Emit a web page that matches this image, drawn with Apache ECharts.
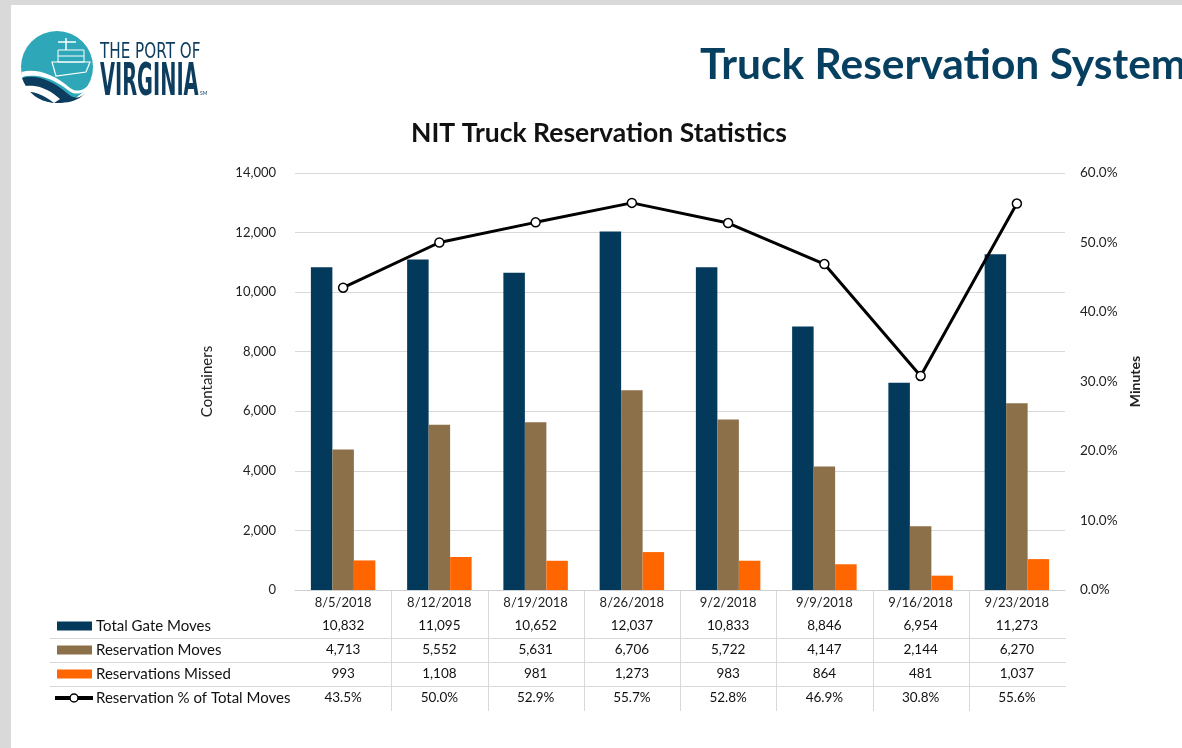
<!DOCTYPE html>
<html><head><meta charset="utf-8">
<script src="https://cdn.jsdelivr.net/npm/echarts@6/dist/echarts.min.js"></script>
<style>html,body{margin:0;padding:0;background:#fff}#c{width:1182px;height:748px}</style>
</head><body><div id="c"></div>
<script>
const categories = ['8/5/2018','8/12/2018','8/19/2018','8/26/2018','9/2/2018','9/9/2018','9/16/2018','9/23/2018'];
const totalGateMoves = [10832,11095,10652,12037,10833,8846,6954,11273];
const reservationMoves = [4713,5552,5631,6706,5722,4147,2144,6270];
const reservationsMissed = [993,1108,981,1273,983,864,481,1037];
const reservationPct = [43.5,50.0,52.9,55.7,52.8,46.9,30.8,55.6];
const seriesNames = ['Total Gate Moves','Reservation Moves','Reservations Missed','Reservation % of Total Moves'];

const FONT = 'Lato, "Open Sans", sans-serif';
const NAVY = '#033a5c', BROWN = '#8b7049', ORANGE = '#ff6600';
const fmtNum = v => v.toLocaleString('en-US');
const fmtPct = v => v.toFixed(1) + '%';

const chart = echarts.init(document.getElementById('c'));
const option = {
  backgroundColor: '#ffffff',
  animation: false,
  textStyle: { fontFamily: FONT },
  title: {
    text: 'NIT Truck Reservation Statistics',
    left: 594, top: 115, textAlign: 'center',
    textStyle: { fontFamily: FONT, fontSize: 26.5, fontWeight: 'bold', color: '#111' }
  },
  grid: { left: 295, right: 117, top: 173, bottom: 158, containLabel: false, outerBoundsMode: 'none' },
  xAxis: {
    type: 'category', data: categories,
    axisLine: { lineStyle: { color: '#d0d0d0', width: 1 } },
    axisTick: { show: false },
    axisLabel: { margin: 6, fontSize: 13, color: '#222', fontFamily: FONT }
  },
  yAxis: [{
    type: 'value', min: 0, max: 14000, interval: 2000,
    name: 'Containers', nameLocation: 'middle', nameGap: 80, nameRotate: 90,
    nameTextStyle: { fontSize: 15, color: '#222', fontFamily: FONT },
    axisLine: { show: false }, axisTick: { show: false },
    axisLabel: { margin: 19, fontSize: 13, color: '#222', formatter: v => fmtNum(v) },
    splitLine: { lineStyle: { color: '#d9d9d9', width: 1 } }
  }, {
    type: 'value', min: 0, max: 60, interval: 10, position: 'right',
    name: 'Minutes', nameLocation: 'middle', nameGap: 60, nameRotate: 90,
    nameTextStyle: { fontSize: 14, fontWeight: 'bold', color: '#222', fontFamily: FONT },
    axisLine: { show: false }, axisTick: { show: false },
    axisLabel: { margin: 15, fontSize: 13.5, color: '#222', formatter: v => fmtPct(v) },
    splitLine: { show: false }
  }],
  series: [
    { name: seriesNames[0], type: 'bar', data: totalGateMoves, barGap: '0%', barCategoryGap: '33%', itemStyle: { color: NAVY } },
    { name: seriesNames[1], type: 'bar', data: reservationMoves, itemStyle: { color: BROWN } },
    { name: seriesNames[2], type: 'bar', data: reservationsMissed, itemStyle: { color: ORANGE } },
    { name: seriesNames[3], type: 'line', yAxisIndex: 1, data: reservationPct, z: 5,
      symbol: 'circle', symbolSize: 9,
      lineStyle: { color: '#000', width: 3 },
      itemStyle: { color: '#fff', borderColor: '#000', borderWidth: 1.5 } }
  ]
};
chart.setOption(option);

// sample cubic bezier path segments into polygon points
function bez(segs) {
  const pts = [];
  segs.forEach(s => {
    if (s.length === 2) { pts.push(s); return; }
    const [p0, p1, p2, p3] = s;
    for (let t = 0; t <= 1.0001; t += 0.1) {
      const u = 1 - t;
      pts.push([
        u*u*u*p0[0] + 3*u*u*t*p1[0] + 3*u*t*t*p2[0] + t*t*t*p3[0],
        u*u*u*p0[1] + 3*u*u*t*p1[1] + 3*u*t*t*p2[1] + t*t*t*p3[1]
      ]);
    }
  });
  return pts;
}

// ---- data table, header and logo ----
const xs = categories.map((c, i) => chart.convertToPixel({ xAxisIndex: 0 }, i));
const rowY = [626, 650, 674, 698];
const rows = [
  totalGateMoves.map(fmtNum),
  reservationMoves.map(fmtNum),
  reservationsMissed.map(fmtNum),
  reservationPct.map(fmtPct)
];
const g = [];
// page frame
g.push({ type: 'rect', shape: { x: 0, y: 0, width: 1182, height: 5 }, style: { fill: '#d9d9d9' }, silent: true });
g.push({ type: 'rect', shape: { x: 0, y: 0, width: 11, height: 748 }, style: { fill: '#d9d9d9' }, silent: true });
// header title
g.push({ type: 'text', x: 700, y: 44, style: { text: 'Truck Reservation System', fontFamily: FONT, fontSize: 42.5, fontWeight: 'bold', fill: '#063f5f' } });
// logo
g.push({ type: 'circle', shape: { cx: 57, cy: 67, r: 36 }, style: { fill: '#2ea8b8' } });
g.push({ type: 'polygon', shape: { points: bez([[[22,78],[36,74],[52,80],[68,94]], [[68,94],[74,99],[80,99],[86,92]], [[86,92],[80,100],[70,103],[57,103]], [[57,103],[40,103],[27,93],[22,78]]]) }, style: { fill: '#0d3d5e' } });
g.push({ type: 'polygon', shape: { points: bez([[[21.5,72],[36,68],[54,74],[70,88]], [[70,88],[76,92],[82,92],[90,84]], [89,87], [[89,87],[82,95],[75,95],[69,91]], [[69,91],[53,78],[37,73],[22,77]]]) }, style: { fill: '#ffffff' } });
g.push({ type: 'polygon', shape: { points: bez([[[24,86],[38,84],[50,90],[60,99]], [54,103], [[54,103],[44,95],[34,91],[27,92]]]) }, style: { fill: '#ffffff' } });
g.push({ type: 'rect', shape: { x: 58, y: 50, width: 26, height: 12 }, style: { fill: 'none', stroke: '#ffffff', lineWidth: 1 } });
g.push({ type: 'line', shape: { x1: 58, y1: 56, x2: 84, y2: 56 }, style: { stroke: '#ffffff', lineWidth: 1 } });
g.push({ type: 'polygon', shape: { points: [[52,62],[90,62],[86,72],[56,76]] }, style: { fill: 'none', stroke: '#ffffff', lineWidth: 1.2 } });
g.push({ type: 'line', shape: { x1: 66, y1: 38, x2: 66, y2: 50 }, style: { stroke: '#ffffff', lineWidth: 1.5 } });
g.push({ type: 'line', shape: { x1: 58, y1: 42, x2: 76, y2: 42 }, style: { stroke: '#ffffff', lineWidth: 1.5 } });
g.push({ type: 'text', x: 100, y: 41, scaleX: 0.69, style: { text: 'THE PORT OF', fontFamily: 'DejaVu Sans', fontSize: 22, fill: '#0d3d5e' } });
g.push({ type: 'text', x: 100, y: 62, scaleX: 0.44, style: { text: 'VIRGINIA', fontFamily: 'DejaVu Sans', fontSize: 44, fontWeight: 'bold', fill: '#0d3d5e' } });
g.push({ type: 'text', x: 200, y: 91, style: { text: 'SM', fontFamily: FONT, fontSize: 5, fill: '#0d3d5e' } });

// table lines
[638, 662, 686].forEach(y => g.push({ type: 'line', shape: { x1: 50, y1: y + 0.5, x2: 1066, y2: y + 0.5 }, style: { stroke: '#d9d9d9', lineWidth: 1 }, silent: true }));
for (let i = 0; i < xs.length - 1; i++) {
  const xb = Math.round((xs[i] + xs[i + 1]) / 2) + 0.5;
  g.push({ type: 'line', shape: { x1: xb, y1: 590, x2: xb, y2: 711 }, style: { stroke: '#d9d9d9', lineWidth: 1 }, silent: true });
}
// table values
rows.forEach((r, ri) => r.forEach((t, ci) => g.push({ type: 'text', x: xs[ci], y: rowY[ri], style: { text: t, fontFamily: FONT, fontSize: 13.5, fill: '#111', align: 'center', verticalAlign: 'middle' } })));
// legend keys
const keyColors = [NAVY, BROWN, ORANGE];
keyColors.forEach((c, i) => g.push({ type: 'rect', shape: { x: 57, y: rowY[i] - 4.5, width: 35, height: 9 }, style: { fill: c } }));
g.push({ type: 'line', shape: { x1: 55, y1: rowY[3], x2: 93, y2: rowY[3] }, style: { stroke: '#000', lineWidth: 4 } });
g.push({ type: 'circle', shape: { cx: 74, cy: rowY[3], r: 4 }, style: { fill: '#fff', stroke: '#000', lineWidth: 1.5 } });
seriesNames.forEach((n, i) => g.push({ type: 'text', x: 96, y: rowY[i], style: { text: n, fontFamily: FONT, fontSize: 15, fill: '#111', verticalAlign: 'middle' } }));

chart.setOption({ graphic: g });
</script></body></html>
